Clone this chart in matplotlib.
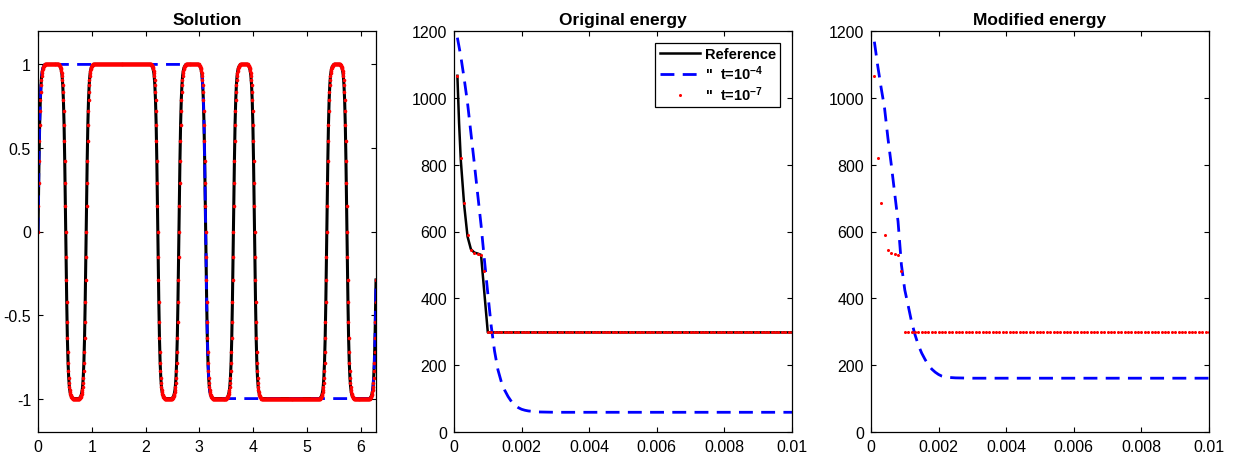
import numpy as np
import matplotlib.pyplot as plt

plt.rcParams['font.family'] = ['Liberation Sans', 'DejaVu Sans']
plt.rcParams['mathtext.default'] = 'regular'
plt.rcParams['axes.unicode_minus'] = False

# =====================================================
# Solution panel (grid of 1024 cells on [0, 2*pi])
# =====================================================

n_cells = 1024

# one side of a phase wall (offsets 1..20 cells)
wall_half = [0.15, 0.29, 0.42, 0.54, 0.64, 0.72, 0.785, 0.835, 0.875, 0.905,
             0.93, 0.948, 0.96, 0.97, 0.978, 0.984, 0.988, 0.991, 0.994, 0.996]

# wall centres (grid index) and jump sign (+1 rising, -1 falling)
ref_walls = [0, 84, 146, 363, 427, 508, 592, 656, 875, 936, 1026]
ref_signs = [1, -1, 1, -1, 1, -1, 1, -1, 1, -1, 1]

coarse_walls = [0, 508, 1026]
coarse_signs = [1, -1, 1]

# =====================================================
# Energy panels
# =====================================================

t_ref = [0.0001, 0.00015, 0.0002, 0.0003, 0.0004, 0.0005, 0.0006,
         0.0007, 0.0008, 0.001, 0.01]
e_ref = [1066, 925, 815, 680, 585, 547, 537, 534, 530, 298, 298]

t_coarse = [0.0001, 0.0002, 0.0003, 0.0004, 0.0005, 0.0006, 0.0007, 0.0008,
            0.0009, 0.0010, 0.0011, 0.0012, 0.0013, 0.0014, 0.0015, 0.0016,
            0.0017, 0.0018, 0.0019, 0.0020, 0.0021, 0.0022, 0.0025, 0.003,
            0.01]
e_coarse = [1180, 1125, 1058, 985, 895, 805, 712, 620, 515, 415, 318, 242,
            186, 150, 125, 106, 91, 80, 73, 68, 65, 63, 60, 59, 59]
e_coarse_mod = [1168, 1095, 1030, 970, 880, 800, 715, 630, 500, 425, 378,
                330, 292, 260, 236, 217, 200, 188, 179, 172, 167, 164, 162,
                161, 161]

# fine run: one dot every 1e-4
n_fine = 100
e_fine = [1066, 820, 685, 590, 545, 536, 534, 530, 482] + [298] * 91
e_fine_mod = e_fine

leg_labels = ['Reference', '"  t=10$^{-4}$', '"  t=10$^{-7}$']


def build_profile(walls, signs):

    u = np.empty(n_cells + 1)

    for j in range(n_cells + 1):

        k = int(np.argmin([abs(j - w) for w in walls]))
        d = j - walls[k]

        if d == 0:
            u[j] = 0.0
        elif abs(d) <= len(wall_half):
            u[j] = signs[k] * np.sign(d) * wall_half[abs(d) - 1]
        else:
            u[j] = signs[k] * np.sign(d)

    return u


def style(ax):

    ax.tick_params(
        direction="in",
        top=True,
        right=True,
        length=3.5,
        width=0.8,
        labelsize=11.5,
        pad=5,
    )

    for sp in ax.spines.values():
        sp.set_linewidth(0.9)


x = np.arange(n_cells + 1) * (2 * np.pi / n_cells)
u_ref = build_profile(ref_walls, ref_signs)
u_coarse = build_profile(coarse_walls, coarse_signs)

fig = plt.figure(figsize=(12.37, 4.6), dpi=100)

W, H = 1237, 460
ax1 = fig.add_axes([38 / W, 27 / H, 338 / W, 401 / H])
ax2 = fig.add_axes([454 / W, 27 / H, 338 / W, 401 / H])
ax3 = fig.add_axes([871 / W, 27 / H, 338 / W, 401 / H])

# ---- Solution ----
ax1.plot(x, u_ref, color="black", lw=2.2)
ax1.plot(x, u_coarse, color="blue", lw=2, dashes=(5, 3))
ax1.plot(x, u_ref, ls="none", marker="o", ms=2.6, mew=0,
         color="red")

ax1.set_xlim(0, 2 * np.pi)
ax1.set_ylim(-1.2, 1.2)
ax1.set_xticks(range(7))
ax1.set_yticks([-1, -0.5, 0, 0.5, 1])
ax1.set_yticklabels(["-1", "-0.5", "0", "0.5", "1"])
ax1.set_title("Solution", fontsize=12.5, fontweight="bold", pad=5)
style(ax1)

# ---- Energies ----
t_fine = np.arange(1, n_fine + 1) * 1e-4

ax2.plot(t_ref, e_ref, color="black", lw=1.8, label=leg_labels[0])
ax2.plot(t_coarse, e_coarse, color="blue", lw=2, dashes=(5, 3),
         label=leg_labels[1])
ax2.plot(t_fine, e_fine, ls="none", marker="o", ms=2.2, mew=0,
         color="red", label=leg_labels[2])

ax3.plot(t_coarse, e_coarse_mod, color="blue", lw=2, dashes=(5, 3))
ax3.plot(t_fine, e_fine_mod, ls="none", marker="o", ms=2.2, mew=0,
         color="red")

xt = [0, 0.002, 0.004, 0.006, 0.008, 0.01]
xtl = ["0", "0.002", "0.004", "0.006", "0.008", "0.01"]

for ax, title in [(ax2, "Original energy"), (ax3, "Modified energy")]:

    ax.set_xlim(0, 0.01)
    ax.set_ylim(0, 1200)
    ax.set_xticks(xt)
    ax.set_xticklabels(xtl)
    ax.set_yticks(range(0, 1201, 200))
    ax.set_title(title, fontsize=12.5, fontweight="bold", pad=5)
    style(ax)

leg = ax2.legend(
    loc="upper right",
    prop={"size": 10.5, "weight": "bold"},
    handlelength=2.8,
    numpoints=1,
    fancybox=False,
    edgecolor="black",
    framealpha=1,
    borderaxespad=0.8,
    borderpad=0.3,
    labelspacing=0.15,
    handletextpad=0.3,
)
leg.get_frame().set_linewidth(0.9)

fig.savefig("out.png", dpi=100)
